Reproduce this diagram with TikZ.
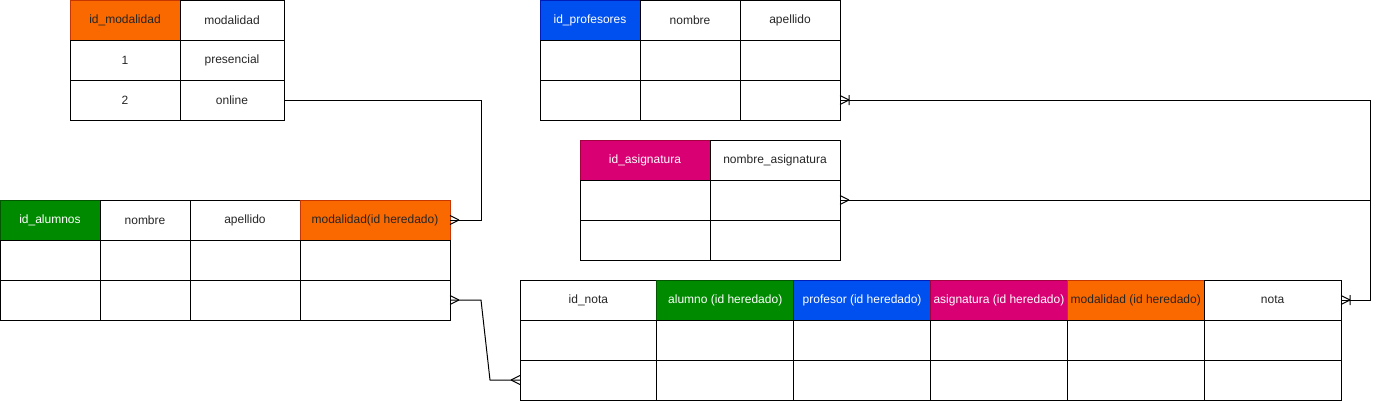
\documentclass[tikz,border=0pt]{standalone}
\usepackage{fontspec}
\setmainfont{Liberation Sans}
\usetikzlibrary{decorations.markings}
\usepackage{xcolor}

\definecolor{naranja}{HTML}{FA6800}
\definecolor{naranjaborde}{HTML}{C73500}
\definecolor{verde}{HTML}{008A00}
\definecolor{verdeborde}{HTML}{005700}
\definecolor{azul}{HTML}{0050EF}
\definecolor{azulborde}{HTML}{001DBC}
\definecolor{magenta}{HTML}{D80073}
\definecolor{magentaborde}{HTML}{A50040}

\tikzset{
  cell/.style={draw=black, line width=0.75pt, minimum height=30pt, inner sep=0pt,
    outer sep=0pt, anchor=north west, font=\fontsize{9}{11}\selectfont, text=black!85},
  head orange/.style={fill=naranja, draw=naranjaborde, text=black!85},
  head green/.style={fill=verde, draw=verdeborde, text=white},
  head blue/.style={fill=azul, draw=azulborde, text=white},
  head pink/.style={fill=magenta, draw=magentaborde, text=white},
  link/.style={line width=0.75pt},
  many end/.style={postaction={decorate, decoration={markings,
    mark=at position 1 with {\draw[line width=0.75pt] (-9,0) -- (0,4.5) (-9,0) -- (0,-4.5);}}}},
  many start/.style={postaction={decorate, decoration={markings,
    mark=at position 0 with {\draw[line width=0.75pt] (9,0) -- (0,4.5) (9,0) -- (0,-4.5);}}}},
  one many end/.style={postaction={decorate, decoration={markings,
    mark=at position 1 with {\draw[line width=0.75pt] (-9,0) -- (0,4.5) (-9,0) -- (0,-4.5) (-9,5) -- (-9,-5);}}}},
  one many start/.style={postaction={decorate, decoration={markings,
    mark=at position 0 with {\draw[line width=0.75pt] (9,0) -- (0,4.5) (9,0) -- (0,-4.5) (9,5) -- (9,-5);}}}}
}

\begin{document}
\begin{tikzpicture}[x=0.75pt,y=-0.75pt]
  \useasboundingbox (0,0) rectangle (1381,401);

  % modalidad
  \node[cell, head orange, minimum width=82.5pt] (m11) at (70,0) {id\_modalidad};
  \node[cell, minimum width=78pt] (m12) at (180,0) {modalidad};
  \node[cell, minimum width=82.5pt] (m21) at (70,40) {1};
  \node[cell, minimum width=78pt] (m22) at (180,40) {presencial};
  \node[cell, minimum width=82.5pt] (m31) at (70,80) {2};
  \node[cell, minimum width=78pt] (m32) at (180,80) {online};

  % profesores
  \node[cell, head blue, minimum width=75pt] (p11) at (540,0) {id\_profesores};
  \node[cell, minimum width=75pt] (p12) at (640,0) {nombre};
  \node[cell, minimum width=75pt] (p13) at (740,0) {apellido};
  \foreach \r/\y in {2/40,3/80} {
    \node[cell, minimum width=75pt] (p\r1) at (540,\y) {};
    \node[cell, minimum width=75pt] (p\r2) at (640,\y) {};
    \node[cell, minimum width=75pt] (p\r3) at (740,\y) {};
  }

  % asignatura
  \node[cell, head pink, minimum width=97.5pt] (s11) at (580,140) {id\_asignatura};
  \node[cell, minimum width=97.5pt] (s12) at (710,140) {nombre\_asignatura};
  \foreach \r/\y in {2/180,3/220} {
    \node[cell, minimum width=97.5pt] (s\r1) at (580,\y) {};
    \node[cell, minimum width=97.5pt] (s\r2) at (710,\y) {};
  }

  % alumnos
  \node[cell, head green, minimum width=75pt] (a11) at (0,200) {id\_alumnos};
  \node[cell, minimum width=67.5pt] (a12) at (100,200) {nombre};
  \node[cell, minimum width=82.5pt] (a13) at (190,200) {apellido};
  \node[cell, head orange, minimum width=112.5pt] (a14) at (300,200) {modalidad(id heredado)};
  \foreach \r/\y in {2/240,3/280} {
    \node[cell, minimum width=75pt] (a\r1) at (0,\y) {};
    \node[cell, minimum width=67.5pt] (a\r2) at (100,\y) {};
    \node[cell, minimum width=82.5pt] (a\r3) at (190,\y) {};
    \node[cell, minimum width=112.5pt] (a\r4) at (300,\y) {};
  }

  % notas
  \node[cell, minimum width=102.625pt] (n11) at (520,280) {id\_nota};
  \node[cell, head green, minimum width=102.625pt] (n12) at (656.83,280) {alumno (id heredado)};
  \node[cell, head blue, minimum width=102.625pt] (n13) at (793.67,280) {profesor (id heredado)};
  \node[cell, head pink, minimum width=102.625pt] (n14) at (930.5,280) {asignatura (id heredado)};
  \node[cell, head orange, minimum width=102.625pt] (n15) at (1067.33,280) {modalidad (id heredado)};
  \node[cell, minimum width=102.625pt] (n16) at (1204.17,280) {nota};
  \foreach \r/\y in {2/320,3/360} {
    \foreach \c/\x in {1/520,2/656.83,3/793.67,4/930.5,5/1067.33,6/1204.17} {
      \node[cell, minimum width=102.625pt] (n\r\c) at (\x,\y) {};
    }
  }

  % relaciones
  \coordinate (k1) at (481,100);
  \coordinate (k2) at (481,300);
  \coordinate (k3) at (490,380);
  \coordinate (k4) at (1370,100);

  \draw[link, many end] (m32.east) -- (k1) |- (a14.east);
  \draw[link, many start, many end] (a34.east) -- (k2) -- (k3) -- (n31.west);
  \draw[link, one many start, one many end] (p33.east) -- (k4) |- (n16.east);
  \draw[link, many start] (s22.east) -- (s22.east -| k4);
\end{tikzpicture}
\end{document}
